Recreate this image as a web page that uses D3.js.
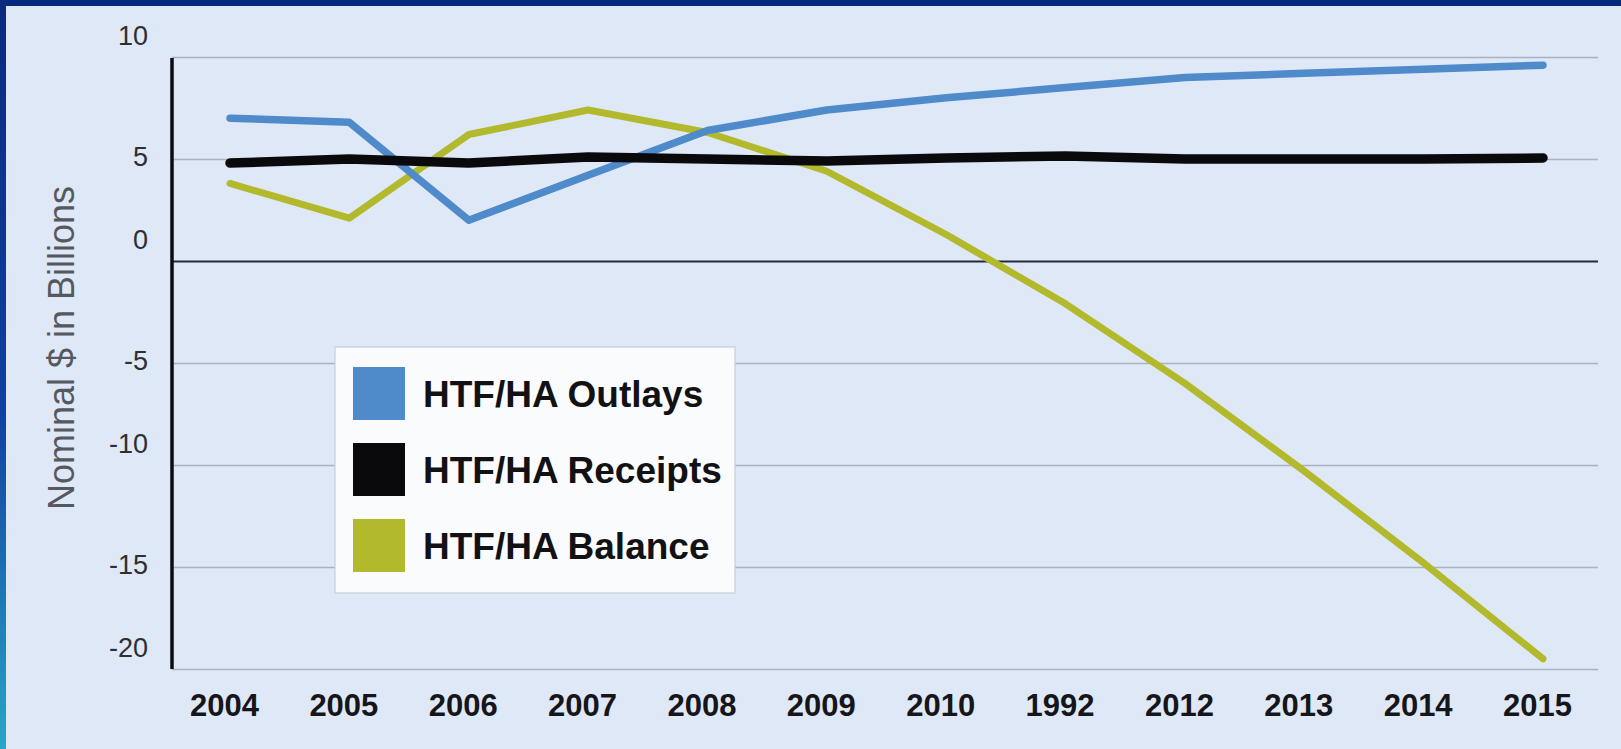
<!DOCTYPE html>
<html>
<head>
<meta charset="utf-8">
<script src="https://cdn.jsdelivr.net/npm/d3@7"></script>
<style>
  html, body { margin: 0; padding: 0; background: #dfe8f6; }
  svg { display: block; }
</style>
</head>
<body>
<svg id="chart" width="1621" height="749"></svg>
<script>
// x categories as printed on the chart (the 2011 slot really says 1992)
var years = ["2004", "2005", "2006", "2007", "2008", "2009", "2010", "1992", "2012", "2013", "2014", "2015"];
var outlays = [7.0, 6.8, 2.0, 4.2, 6.4, 7.4, 8.0, 8.5, 9.0, 9.2, 9.4, 9.6];
var receipts = [4.8, 5.0, 4.8, 5.1, 5.0, 4.9, 5.05, 5.15, 5.0, 5.0, 5.0, 5.05];
var balance = [3.8, 2.1, 6.2, 7.4, 6.3, 4.4, 1.3, -2.1, -6.0, -10.3, -14.8, -19.5];
var yTicks = [-20, -15, -10, -5, 0, 5, 10];
var seriesNames = ["HTF/HA Outlays", "HTF/HA Receipts", "HTF/HA Balance"];
var seriesColors = ["#4f8acb", "#0a0a0c", "#b3b92c"];

var svg = d3.select("#chart");

// frame: navy top bar, left bar fading to teal
var defs = svg.append("defs");
var grad = defs.append("linearGradient").attr("id", "leftbar")
  .attr("x1", 0).attr("y1", 0).attr("x2", 0).attr("y2", 1);
grad.append("stop").attr("offset", "0%").attr("stop-color", "#0a2a80");
grad.append("stop").attr("offset", "55%").attr("stop-color", "#1040a0");
grad.append("stop").attr("offset", "100%").attr("stop-color", "#28a6c8");

svg.append("rect").attr("x", 0).attr("y", 0).attr("width", 1621).attr("height", 749).attr("fill", "#dfe8f6");
svg.append("rect").attr("x", 0).attr("y", 0).attr("width", 1621).attr("height", 6).attr("fill", "#062a7c");
svg.append("rect").attr("x", 0).attr("y", 0).attr("width", 6).attr("height", 749).attr("fill", "url(#leftbar)");

var axisX = 172, gridRight = 1598;

var x = d3.scalePoint().domain(years).range([230, 1543]);
var y = d3.scaleLinear().domain([-20, 10]).range([669, 57]);

// gridlines
var grid = svg.append("g")
  .attr("transform", "translate(" + axisX + ",0)")
  .call(d3.axisLeft(y).tickValues(yTicks).tickSize(-(gridRight - axisX)).tickFormat(""));
grid.select(".domain").remove();
grid.selectAll(".tick line")
  .attr("stroke", function(d) { return d === 0 ? "#26283a" : "#aab1c2"; })
  .attr("stroke-width", function(d) { return d === 0 ? 2.2 : 1.6; });

// y tick labels (scan has the multiples of ten sitting higher)
var yLab = svg.append("g")
  .attr("transform", "translate(" + axisX + ",0)")
  .call(d3.axisLeft(y).tickValues(yTicks).tickSize(0).tickPadding(24)
    .tickFormat(function(d) { return String(d); }));
yLab.select(".domain").remove();
yLab.selectAll("text")
  .attr("font-family", "'Liberation Sans', Arial, sans-serif")
  .attr("font-size", 27)
  .attr("fill", "#2e2e33")
  .attr("dy", function(d) { return d % 10 === 0 ? "-0.45em" : "0.25em"; });

// y axis line
svg.append("line")
  .attr("x1", axisX).attr("x2", axisX)
  .attr("y1", y(10) + 1).attr("y2", y(-20))
  .attr("stroke", "#0c0c10").attr("stroke-width", 3.5);

// x labels
var xLab = svg.append("g")
  .attr("transform", "translate(0," + y(-20) + ")")
  .call(d3.axisBottom(x).tickSize(0).tickPadding(25));
xLab.select(".domain").remove();
xLab.selectAll("text")
  .attr("font-family", "'Liberation Sans', Arial, sans-serif")
  .attr("font-size", 31)
  .attr("font-weight", "bold")
  .attr("fill", "#16161a")
  .attr("dx", -6);

// y title
svg.append("text")
  .attr("transform", "translate(74," + 348 + ") rotate(-90)")
  .attr("text-anchor", "middle")
  .attr("font-family", "'Liberation Sans', Arial, sans-serif")
  .attr("font-size", 36)
  .attr("fill", "#55585f")
  .text("Nominal $ in Billions");

// lines
var line = d3.line()
  .x(function(d, i) { return x(years[i]); })
  .y(function(d) { return y(d); });

var allSeries = [outlays, receipts, balance];
var widths = [7.5, 9.5, 7];
// draw balance first, then outlays, receipts on top like the scan
[2, 0, 1].forEach(function(k) {
  svg.append("path")
    .datum(allSeries[k])
    .attr("d", line)
    .attr("fill", "none")
    .attr("stroke", seriesColors[k])
    .attr("stroke-width", widths[k])
    .attr("stroke-linejoin", "round")
    .attr("stroke-linecap", "round");
});

// legend
var lg = svg.append("g").attr("transform", "translate(335,347)");
lg.append("rect")
  .attr("width", 400).attr("height", 246)
  .attr("fill", "#fafbfd")
  .attr("stroke", "#c9ceda").attr("stroke-width", 1.2);
seriesNames.forEach(function(name, i) {
  var row = lg.append("g").attr("transform", "translate(18," + (20 + i * 76) + ")");
  row.append("rect").attr("width", 52).attr("height", 53).attr("fill", seriesColors[i]);
  row.append("text")
    .attr("x", 70).attr("y", 27).attr("dy", "0.36em")
    .attr("font-family", "'Liberation Sans', Arial, sans-serif")
    .attr("font-size", 37)
    .attr("font-weight", "bold")
    .attr("fill", "#121214")
    .text(name);
});
</script>
</body>
</html>
